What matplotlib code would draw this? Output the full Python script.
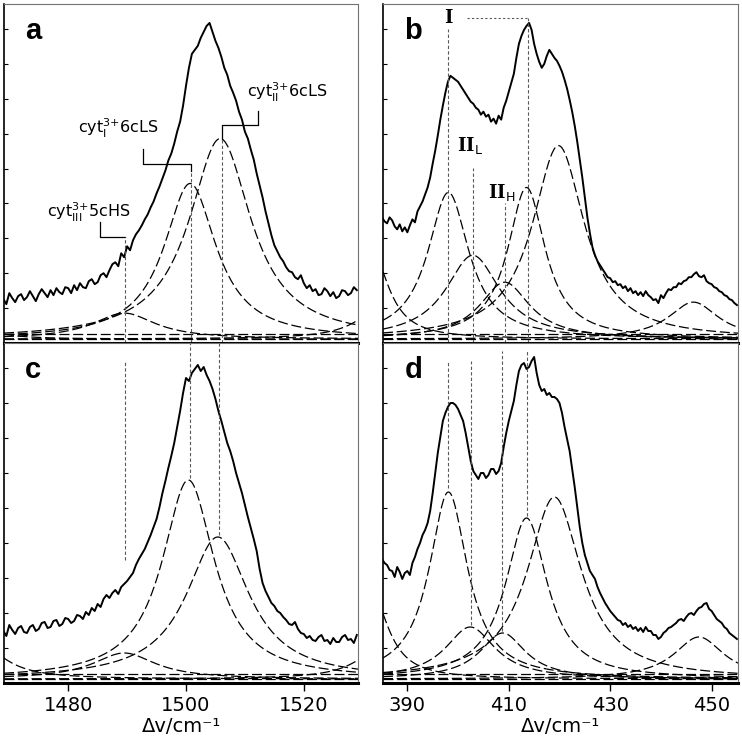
import numpy as np
import matplotlib
matplotlib.use("Agg")
import matplotlib.pyplot as plt

wn_left = [1469 + 0.5 * i for i in range(121)]
spec_a = [44, 39, 50, 45, 41, 47, 49, 43, 46, 52, 47, 42, 49, 54, 50, 46, 53, 48, 55, 51,
          49, 56, 55, 50, 58, 53, 60, 56, 55, 62, 64, 59, 61, 68, 70, 66, 73, 79, 81, 77,
          90, 86, 97, 93, 103, 109, 113, 118, 124, 129, 136, 142, 150, 157, 165, 173, 183, 190, 200, 212,
          222, 238, 258, 276, 290, 294, 298, 306, 312, 318, 321, 312, 303, 296, 287, 276, 269, 258, 251, 243,
          232, 224, 212, 205, 194, 184, 170, 158, 146, 132, 120, 108, 98, 92, 86, 82, 76, 72, 71, 66,
          64, 68, 60, 55, 58, 52, 54, 48, 49, 55, 52, 47, 51, 45, 47, 53, 52, 48, 50, 56,
          53]
spec_c = [52, 47, 58, 53, 49, 55, 57, 51, 50, 56, 58, 52, 54, 60, 61, 55, 56, 62, 63, 57,
          59, 65, 64, 60, 62, 68, 67, 64, 71, 68, 75, 72, 79, 76, 84, 88, 85, 90, 93, 89,
          96, 99, 102, 106, 110, 118, 124, 129, 134, 141, 148, 156, 164, 176, 190, 202, 215, 227, 240, 256,
          272, 290, 305, 302, 310, 314, 318, 312, 316, 308, 302, 294, 284, 272, 262, 251, 240, 232, 222, 210,
          200, 190, 178, 166, 155, 144, 132, 114, 100, 92, 86, 80, 77, 72, 70, 66, 63, 59, 58, 61,
          54, 50, 49, 45, 47, 43, 42, 46, 48, 42, 43, 39, 45, 41, 41, 46, 48, 43, 44, 40,
          48]

wn_right = [385 + 0.5 * i for i in range(141)]
spec_b = [126, 122, 120, 126, 123, 117, 114, 119, 112, 116, 111, 118, 124, 121, 132, 137, 142, 149, 156, 166,
          180, 193, 208, 224, 238, 251, 262, 268, 266, 264, 262, 258, 254, 250, 246, 242, 240, 236, 234, 229,
          232, 227, 229, 222, 225, 220, 228, 224, 236, 243, 252, 261, 270, 286, 300, 308, 314, 318, 321, 314,
          300, 290, 282, 276, 280, 288, 294, 290, 286, 283, 278, 272, 264, 255, 244, 232, 218, 202, 184, 166,
          146, 126, 110, 96, 88, 82, 78, 74, 70, 66, 65, 61, 62, 58, 59, 55, 57, 52, 55, 50,
          52, 48, 51, 47, 52, 48, 46, 43, 44, 40, 48, 45, 50, 54, 53, 56, 56, 60, 59, 62,
          63, 66, 66, 69, 71, 67, 66, 68, 62, 60, 59, 56, 55, 52, 51, 48, 47, 44, 43, 40,
          38]
spec_d = [124, 120, 118, 113, 112, 106, 116, 111, 104, 110, 112, 108, 120, 126, 134, 140, 148, 153, 160, 172,
          190, 210, 230, 246, 262, 270, 276, 280, 280, 278, 274, 268, 262, 250, 236, 222, 212, 208, 204, 210,
          210, 205, 208, 214, 214, 209, 212, 220, 236, 250, 262, 272, 282, 298, 312, 318, 320, 314, 316, 322,
          326, 310, 298, 292, 294, 288, 290, 286, 286, 284, 280, 270, 256, 244, 232, 214, 196, 176, 156, 140,
          128, 120, 112, 108, 104, 96, 90, 85, 80, 76, 72, 69, 66, 63, 62, 58, 60, 56, 58, 54,
          56, 52, 55, 51, 56, 52, 52, 48, 48, 44, 46, 50, 52, 55, 56, 58, 60, 63, 64, 62,
          66, 69, 70, 68, 72, 75, 76, 79, 80, 74, 72, 68, 64, 62, 60, 56, 54, 50, 48, 46,
          44]

# fitted band components: position (cm-1), height, FWHM (cm-1)
pos_a = [1465, 1489.5, 1500.7, 1505.8, 1533]
hgt_a = [8, 26, 156, 201, 30]
fw_a = [10, 13, 10.8, 12.8, 10]

pos_c = [1465, 1489.5, 1500.4, 1505.4, 1533]
hgt_c = [35, 26, 199, 142, 30]
fw_c = [10, 13, 10.8, 13, 10]

pos_b = [383, 398.1, 402.9, 409.2, 413.5, 419.8, 446.4]
hgt_b = [88, 147, 84, 57, 152, 194, 37]
fw_b = [8, 9.9, 13, 12, 9, 12.5, 12]

pos_d = [383, 398.1, 402.4, 408.8, 413.5, 419.0, 447.5]
hgt_d = [85, 187, 52, 46, 161, 182, 42]
fw_d = [8, 9.2, 12, 11, 10, 13, 12]

base_lines = [4, 9]

fig = plt.figure(figsize=(7.42, 7.40), dpi=100)
W, H = 742, 740


def px_axes(x0, y0, x1, y1):
    return fig.add_axes([x0 / W, 1 - y1 / H, (x1 - x0) / W, (y1 - y0) / H])


ax_a = px_axes(4, 4, 358, 343)
ax_b = px_axes(383, 4, 738, 343)
ax_c = px_axes(4, 343, 358, 683)
ax_d = px_axes(383, 343, 738, 683)


def lorentz(x, c, h, w):
    return base_lines[0] + h / (1 + ((x - c) / (w / 2)) ** 2)


def draw_panel(ax, wn, spec, pos, hgt, fw, xlim, letter, bottom):
    xs = np.linspace(xlim[0], xlim[1], 400)
    for c, h, w in zip(pos, hgt, fw):
        ax.plot(xs, lorentz(xs, c, h, w), color="black", lw=0.9, dashes=(8, 3))
    for b in base_lines:
        ax.plot(xlim, [b, b], color="black", lw=0.9, dashes=(8, 3))
    ax.plot(wn, spec, color="black", lw=1.4)
    ax.set_xlim(*xlim)
    ax.set_ylim(0, 340)
    ax.text(0.06, 0.92, letter, transform=ax.transAxes, fontsize=21,
            fontweight="bold", family="Liberation Sans", ha="left", va="center")
    ax.set_yticks(np.arange(0, 340, 35))
    ax.tick_params(axis="y", direction="in", length=3, labelleft=False)
    ax.spines["bottom"].set_linewidth(2.2)
    ax.spines["left"].set_linewidth(1.2)
    ax.spines["top"].set_color("0.45")
    ax.spines["right"].set_color("0.45")
    if bottom:
        ax.tick_params(axis="x", direction="out", length=6, width=1, labelsize=14)
        ax.set_xlabel("Δv/cm⁻¹", fontsize=14, labelpad=1)
    else:
        ax.set_xticks([])


draw_panel(ax_a, wn_left, spec_a, pos_a, hgt_a, fw_a, (1469.1, 1529.2), "a", False)
draw_panel(ax_c, wn_left, spec_c, pos_c, hgt_c, fw_c, (1469.1, 1529.2), "c", True)
draw_panel(ax_b, wn_right, spec_b, pos_b, hgt_b, fw_b, (385.2, 455.2), "b", False)
draw_panel(ax_d, wn_right, spec_d, pos_d, hgt_d, fw_d, (385.2, 455.2), "d", True)
ax_c.set_xticks([1480, 1500, 1520])
ax_d.set_xticks([390, 410, 430, 450])

vkw = dict(color="0.35", lw=0.8, dashes=(3, 2))
lkw = dict(color="black", lw=0.9)

# panel a: assignments with brackets
ax_a.plot([1485.4, 1485.4, 1489.6], [121, 106, 106], **lkw)
ax_a.plot([1492.7, 1492.7, 1500.8, 1500.8], [195, 180, 180, 173], **lkw)
ax_a.plot([1512.2, 1512.2, 1506.1, 1506.1], [233, 219, 219, 205], **lkw)
ax_a.plot([1489.6, 1489.6], [0, 106], **vkw)
ax_a.plot([1500.8, 1500.8], [0, 173], **vkw)
ax_a.plot([1506.1, 1506.1], [0, 205], **vkw)
ax_a.text(1483.6, 131, r"cyt$^{3{+}}_{\mathrm{III}}$5cHS", fontsize=11.5, ha="center", va="center")
ax_a.text(1488.5, 215, r"cyt$^{3{+}}_{\mathrm{I}}$6cLS", fontsize=11.5, ha="center", va="center")
ax_a.text(1517.2, 251, r"cyt$^{3{+}}_{\mathrm{II}}$6cLS", fontsize=11.5, ha="center", va="center")

# panel c: guide lines
ax_c.plot([1489.6, 1489.6], [123, 323], **vkw)
ax_c.plot([1500.6, 1500.6], [205, 340], **vkw)
ax_c.plot([1505.6, 1505.6], [148, 340], **vkw)

# panel b: labels
ax_b.plot([401.7, 413.7], [326, 326], color="0.35", lw=0.8, dashes=(2, 2))
ax_b.plot([413.7, 413.7], [0, 326], **vkw)
ax_b.plot([398.1, 398.1], [0, 315], **vkw)
ax_b.plot([402.9, 402.9], [0, 176], **vkw)
ax_b.plot([409.2, 409.2], [0, 140], **vkw)
ax_b.text(398.1, 326, "I", family="DejaVu Serif", fontsize=13, fontweight="bold",
          ha="center", va="center")
ax_b.text(402.3, 198, r"II$_{\mathrm{L}}$", family="DejaVu Serif", fontsize=13,
          fontweight="bold", ha="center", va="center")
ax_b.text(408.6, 151, r"II$_{\mathrm{H}}$", family="DejaVu Serif", fontsize=13,
          fontweight="bold", ha="center", va="center")

# panel d: guide lines
ax_d.plot([398.1, 398.1], [195, 322], **vkw)
ax_d.plot([402.6, 402.6], [58, 322], **vkw)
ax_d.plot([408.6, 408.6], [52, 332], **vkw)
ax_d.plot([413.5, 413.5], [167, 332], **vkw)

fig.savefig("out.png", dpi=100)
